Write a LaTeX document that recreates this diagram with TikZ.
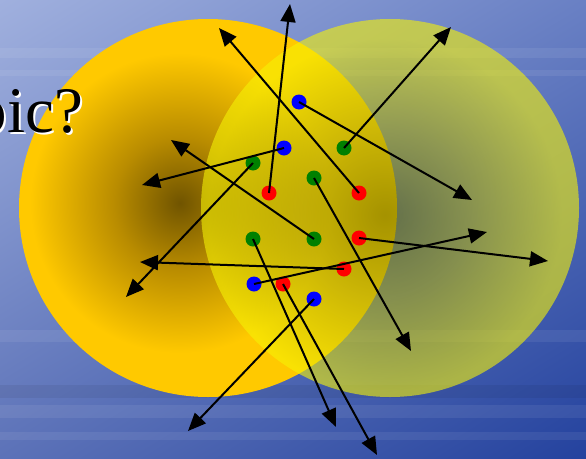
\documentclass[tikz,border=0pt]{standalone}
\usepackage{fontspec}
\setmainfont{Liberation Serif}
\usetikzlibrary{arrows.meta,shadings}
\definecolor{bgul}{RGB}{160,176,222}
\definecolor{bgur}{RGB}{105,128,196}
\definecolor{bgll}{RGB}{92,114,184}
\definecolor{bglr}{RGB}{36,66,158}
\definecolor{leftdark}{RGB}{112,84,0}
\definecolor{leftmid}{RGB}{185,140,0}
\definecolor{leftorange}{RGB}{255,201,0}
\definecolor{rightinner}{RGB}{105,110,0}
\definecolor{rightmid}{RGB}{170,170,10}
\definecolor{rightouter}{RGB}{245,242,5}
\definecolor{dotblue}{RGB}{0,0,255}
\definecolor{dotgreen}{RGB}{0,128,0}
\definecolor{dotred}{RGB}{255,0,0}
\pgfdeclareradialshading{leftball}{\pgfpoint{0bp}{0bp}}{color(0bp)=(leftdark); color(11bp)=(leftmid); color(25bp)=(leftorange); color(50bp)=(leftorange)}
\pgfdeclareradialshading{rightball}{\pgfpoint{0bp}{0bp}}{color(0bp)=(rightinner); color(8bp)=(rightmid); color(17bp)=(rightouter); color(50bp)=(rightouter)}
\begin{document}
\begin{tikzpicture}[x=1pt,y=-1pt,
  dot/.style={circle,inner sep=0pt,minimum size=15pt},
  arr/.style={line width=2pt,-{Triangle[length=18pt,width=15pt]}},
  streak/.style={white,opacity=0.07},
  title/.style={font=\fontsize{65}{65}\selectfont,anchor=base west,inner sep=0pt}]
\useasboundingbox (0,0) rectangle (586,458);
\clip (0,0) rectangle (586,458);
% background
\shade[upper left=bgul, upper right=bgur, lower left=bgll, lower right=bglr] (0,0) rectangle (586,458);
\fill[streak] (0,48) rectangle (586,58);
\fill[streak] (0,70) rectangle (586,76);
\fill[streak] (0,330) rectangle (586,342);
\fill[streak] (0,405) rectangle (586,418);
\fill[streak] (0,432) rectangle (586,440);
\fill[black,opacity=0.06] (0,385) rectangle (586,398);
% left circle
\fill[leftorange] (208,208) circle (189pt);
\begin{scope}
  \clip (208,208) circle (189pt);
  \shade[shading=leftball] (180,203) circle (150pt);
\end{scope}
% right circle
\begin{scope}
  \clip (390,208) circle (189pt);
  \shade[shading=rightball,opacity=0.6] (385,215) circle (260pt);
\end{scope}
% title text
\node[title,white] (tshadow) at (-23.5,134) {pic?};
\node[title,black] (ttext) at (-25.5,132) {pic?};
% dots
\node[dot,fill=dotblue] (b1) at (299,102) {};
\node[dot,fill=dotblue] (b2) at (284,148) {};
\node[dot,fill=dotblue] (b3) at (254,284) {};
\node[dot,fill=dotblue] (b4) at (314,299) {};
\node[dot,fill=dotgreen] (g1) at (253,163) {};
\node[dot,fill=dotgreen] (g2) at (344,148) {};
\node[dot,fill=dotgreen] (g3) at (314,178) {};
\node[dot,fill=dotgreen] (g4) at (253,239) {};
\node[dot,fill=dotgreen] (g5) at (314,239) {};
\node[dot,fill=dotred] (r1) at (269,193) {};
\node[dot,fill=dotred] (r2) at (359,193) {};
\node[dot,fill=dotred] (r3) at (359,238) {};
\node[dot,fill=dotred] (r4) at (344,269) {};
\node[dot,fill=dotred] (r5) at (283,284) {};
% arrow ends
\coordinate (e1) at (472,200);
\coordinate (e2) at (142,185);
\coordinate (e3) at (126,297);
\coordinate (e4) at (451,27);
\coordinate (e5) at (290,4);
\coordinate (e6) at (219,28);
\coordinate (e7) at (171,140);
\coordinate (e8) at (411,351);
\coordinate (e9) at (548,261);
\coordinate (e10) at (140,262);
\coordinate (e11) at (487,232);
\coordinate (e12) at (336,427);
\coordinate (e13) at (377,455);
\coordinate (e14) at (188,431);
% arrows
\draw[arr] (b1.center) -- (e1);
\draw[arr] (b2.center) -- (e2);
\draw[arr] (g1.center) -- (e3);
\draw[arr] (g2.center) -- (e4);
\draw[arr] (r1.center) -- (e5);
\draw[arr] (r2.center) -- (e6);
\draw[arr] (g5.center) -- (e7);
\draw[arr] (g3.center) -- (e8);
\draw[arr] (r3.center) -- (e9);
\draw[arr] (r4.center) -- (e10);
\draw[arr] (b3.center) -- (e11);
\draw[arr] (g4.center) -- (e12);
\draw[arr] (r5.center) -- (e13);
\draw[arr] (b4.center) -- (e14);
\end{tikzpicture}
\end{document}
